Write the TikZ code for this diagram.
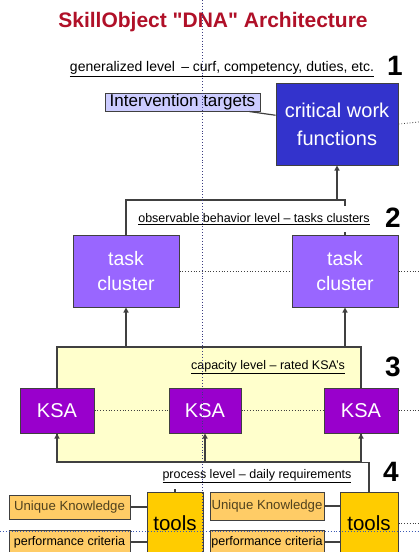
\documentclass[tikz,border=0pt]{standalone}
\usepackage{fontspec}
\setmainfont{Liberation Sans}
\usetikzlibrary{arrows.meta}
\definecolor{titlered}{RGB}{176,16,40}
\definecolor{interfill}{RGB}{204,204,255}
\definecolor{cwffill}{RGB}{51,51,204}
\definecolor{taskfill}{RGB}{153,102,255}
\definecolor{capfill}{RGB}{255,255,204}
\definecolor{ksafill}{RGB}{153,0,204}
\definecolor{toolfill}{RGB}{255,204,0}
\definecolor{ukfill}{RGB}{255,204,102}
\definecolor{uktext}{RGB}{80,66,30}
\definecolor{linegray}{RGB}{64,64,64}
\definecolor{navydot}{RGB}{60,60,130}
\definecolor{bluedot}{RGB}{60,90,180}
\begin{document}
\begin{tikzpicture}[x=1pt,y=-1pt,
  box/.style={draw=linegray,line width=1pt,inner sep=0pt,align=center},
  conn/.style={draw=linegray,line width=1.2pt},
  arr/.style={conn,-{Triangle[length=5pt,width=5pt]}},
  dots/.style={draw=black!75,dotted,line width=0.8pt},
  lvl/.style={font=\fontsize{12.5}{14}\selectfont,fill=white,inner sep=0pt,minimum height=26pt},
  num/.style={font=\fontsize{28}{30}\selectfont\bfseries}]
\useasboundingbox (0,0) rectangle (419,552);
\clip (0,0) rectangle (419,552);
\node[font=\fontsize{21}{23}\selectfont\bfseries,text=titlered] (title) at (213,22) {SkillObject \textquotedbl DNA\textquotedbl{} Architecture};
% level 1
\node[lvl,font=\fontsize{14}{16}\selectfont] (lab1) at (222,69) {\underline{generalized level \,– curf, competency, duties, etc.}};
\node[num] (n1) at (395,66) {1};
\node[box,fill=interfill,minimum width=155pt,minimum height=18pt,font=\fontsize{17}{19}\selectfont] (inter) at (182.5,102) {Intervention targets};
\node[box,fill=cwffill,text=white,minimum width=122pt,minimum height=82pt,font=\fontsize{20}{28}\selectfont] (cwf) at (337,124) {critical work\\functions};
\draw[conn] (inter) -- (cwf);
\draw[dots] (cwf.east) -- (419,122);
% level 2
\node[box,fill=taskfill,text=white,minimum width=106pt,minimum height=72pt,font=\fontsize{19.5}{25}\selectfont] (taskL) at (126,271) {task\\cluster};
\node[box,fill=taskfill,text=white,minimum width=106pt,minimum height=72pt,font=\fontsize{19.5}{25}\selectfont] (taskR) at (345,271) {task\\cluster};
\coordinate (j1) at (337,200);
\draw[arr] (j1) -- (cwf.south -| j1);
\draw[conn] (taskL.north) |- (taskR.north |- j1) -- (taskR.north);
\node[lvl] (lab2) at (254,219) {\underline{observable behavior level – tasks clusters}};
\node[num] (n2) at (393,218) {2};
\draw[dots] (taskL.east) -- (taskR.west);
\draw[dots] (taskR.east) -- (419,271);
% level 3
\node[draw=linegray,line width=1.2pt,fill=capfill,minimum width=304pt,minimum height=115pt,inner sep=0pt] (cap) at (209,404.5) {};
\draw[arr] (taskL.south |- cap.north) -- (taskL.south);
\draw[arr] (taskR.south |- cap.north) -- (taskR.south);
\node[lvl,fill=capfill] (lab3) at (268,367) {\underline{capacity level – rated KSA's}};
\node[num] (n3) at (393,367) {3};
\node[box,fill=ksafill,text=white,minimum width=74pt,minimum height=45pt,font=\fontsize{20}{22}\selectfont] (ksaL) at (57,410.5) {KSA};
\node[box,fill=ksafill,text=white,minimum width=72pt,minimum height=45pt,font=\fontsize{20}{22}\selectfont] (ksaM) at (205,410.5) {KSA};
\node[box,fill=ksafill,text=white,minimum width=74pt,minimum height=45pt,font=\fontsize{20}{22}\selectfont] (ksaR) at (361,410.5) {KSA};
\draw[dots] (ksaL) -- (ksaM);
\draw[dots] (ksaM) -- (ksaR);
\draw[dots] (ksaR.east) -- (419,410.5);
\draw[arr] (ksaL.south |- cap.south) -- (ksaL.south);
\draw[arr] (ksaM.south |- cap.south) -- (ksaM.south);
\draw[arr] (ksaR.south |- cap.south) -- (ksaR.south);
% level 4
\node[box,fill=toolfill,minimum width=56pt,minimum height=62pt,font=\fontsize{20.5}{22}\selectfont] (toolsL) at (175,523) {tools};
\node[box,fill=toolfill,minimum width=58pt,minimum height=62pt,font=\fontsize{20.5}{22}\selectfont] (toolsR) at (369,523) {tools};
\draw[conn] (cap.south east) -| (toolsR.north);
\draw[conn] (toolsL.north) -- (toolsL.north |- cap.south);
\node[lvl] (lab4) at (257,476) {\underline{process level – daily requirements}};
\node[num] (n4) at (391,472) {4};
\node[box,fill=ukfill,text=uktext,minimum width=121pt,minimum height=24pt,font=\fontsize{13.2}{15}\selectfont] (ukL) at (69.5,507) {Unique Knowledge};
\node[box,fill=ukfill,text=uktext,minimum width=114pt,minimum height=28pt,font=\fontsize{13.2}{15}\selectfont] (ukR) at (267,506) {Unique Knowledge};
\node[box,fill=ukfill,minimum width=121pt,minimum height=24pt,font=\fontsize{12.5}{14}\selectfont] (pcL) at (69.5,542) {performance criteria};
\node[box,fill=ukfill,minimum width=114pt,minimum height=24pt,font=\fontsize{12.5}{14}\selectfont] (pcR) at (267,542) {performance criteria};
\draw[conn] (ukL.east) -- (ukL.east -| toolsL.west);
\draw[conn] (pcL.east) -- (pcL.east -| toolsL.west);
\draw[conn] (ukR.east) -- (ukR.east -| toolsR.west);
\draw[conn] (pcR.east) -- (pcR.east -| toolsR.west);
\draw[dots] (toolsR.east) -- (419,523);
% dotted guides
\draw[draw=bluedot,dotted,line width=0.9pt] (0,531) -- (419,531);
\draw[draw=navydot,dotted,line width=0.9pt] (202,0) -- (202,552);
\end{tikzpicture}
\end{document}
